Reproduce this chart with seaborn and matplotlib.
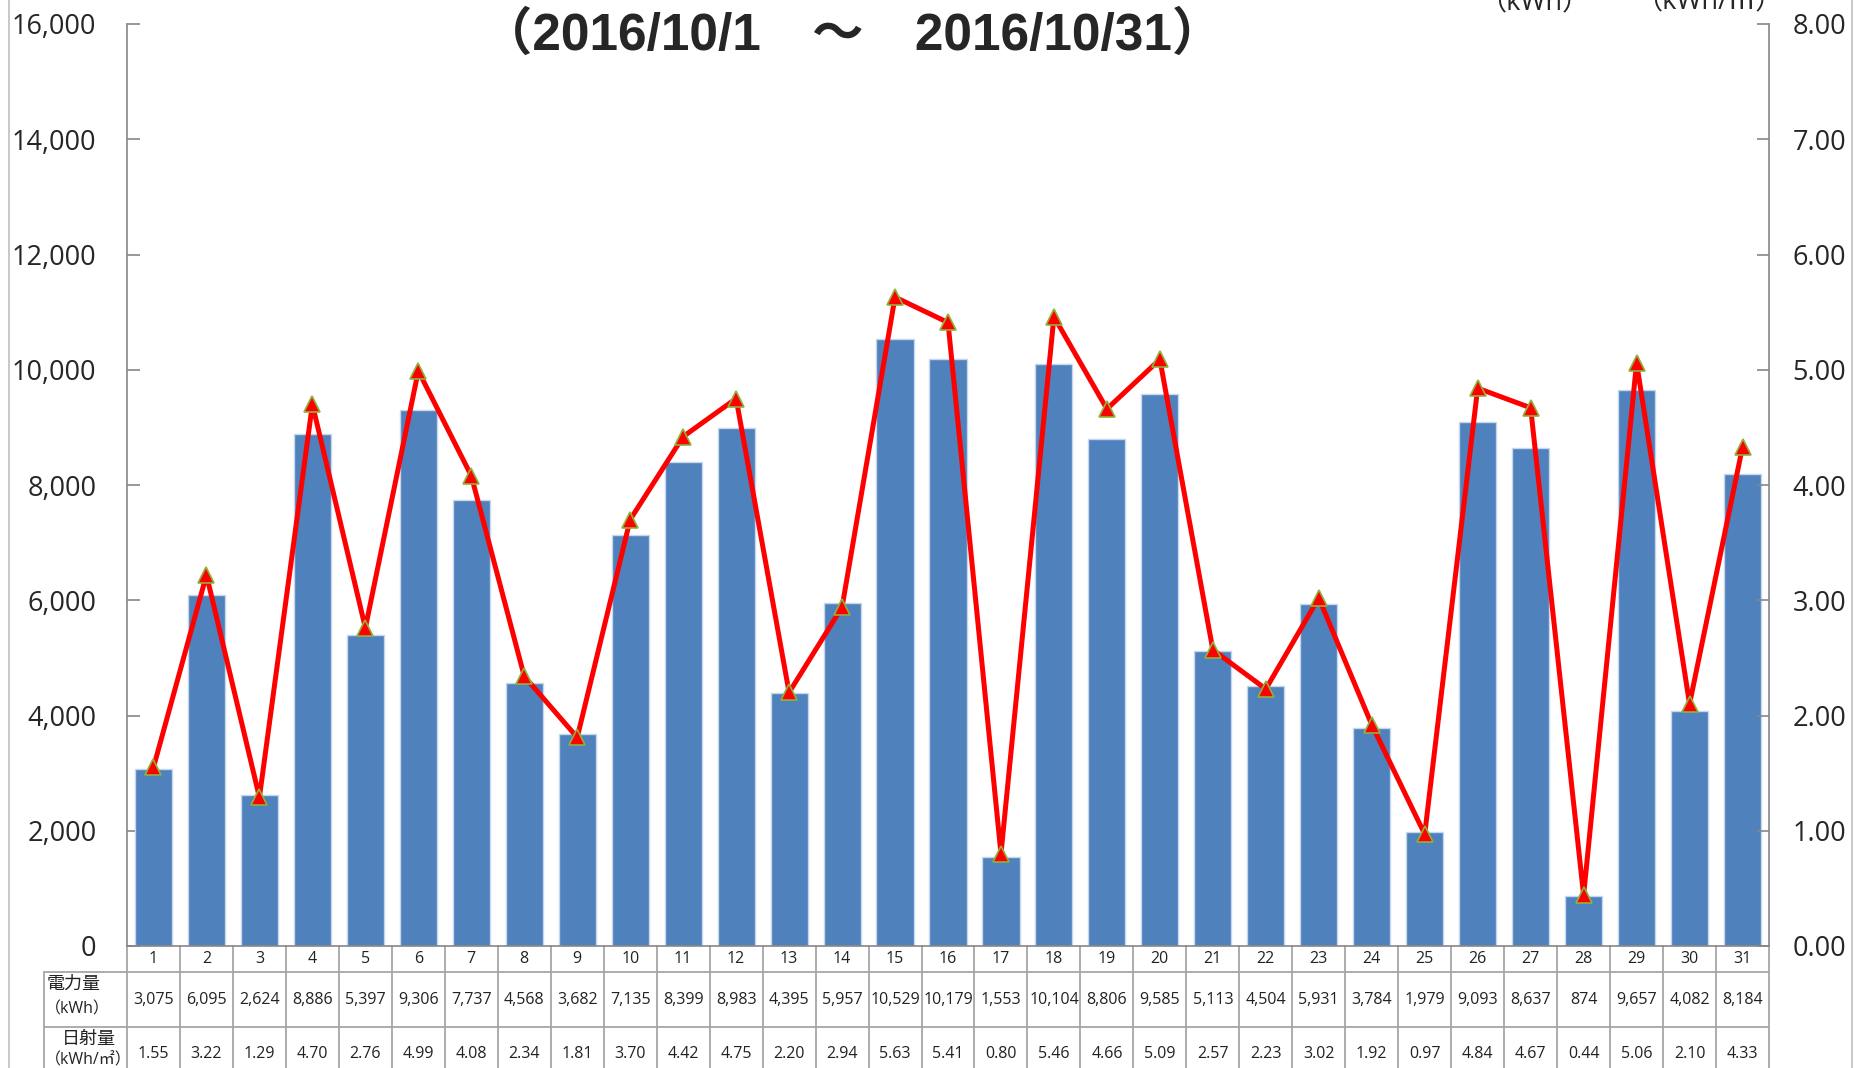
import numpy as np
import pandas as pd
import seaborn as sns
import matplotlib.pyplot as plt
from matplotlib.lines import Line2D
from matplotlib.transforms import blended_transform_factory

# data
days = list(range(1, 32))
power = [3075, 6095, 2624, 8886, 5397, 9306, 7737, 4568, 3682, 7135, 8399,
         8983, 4395, 5957, 10529, 10179, 1553, 10104, 8806, 9585, 5113, 4504,
         5931, 3784, 1979, 9093, 8637, 874, 9657, 4082, 8184]
irr = [1.55, 3.22, 1.29, 4.70, 2.76, 4.99, 4.08, 2.34, 1.81, 3.70, 4.42,
       4.75, 2.20, 2.94, 5.63, 5.41, 0.80, 5.46, 4.66, 5.09, 2.57, 2.23,
       3.02, 1.92, 0.97, 4.84, 4.67, 0.44, 5.06, 2.10, 4.33]
title = '（2016/10/1　～　2016/10/31）'
left_ticks = list(range(0, 16001, 2000))
right_ticks = list(range(0, 9))
row_labels = [('電力量', '（kWh）'), ('日射量', '（kWh/㎡）')]
unit_labels = ['（kWh）', '（kWh/㎡）']

sns.set_theme(style='white')
plt.rcParams['font.family'] = ['Open Sans', 'Noto Sans CJK JP', 'DejaVu Sans']

W, H = 1855, 1068
L, R, T, B = 127, 1769, 24, 946
fig = plt.figure(figsize=(W / 100, H / 100), dpi=100)
ax = fig.add_axes([L / W, 1 - B / H, (R - L) / W, (B - T) / H])

df = pd.DataFrame({'day': days, 'power': power, 'irr': irr})
sns.barplot(data=df, x='day', y='power', ax=ax, color='#4F81BD', saturation=1,
            width=0.7, edgecolor='#c6d6eb', linewidth=1)

ax2 = ax.twinx()
sns.lineplot(x=np.arange(len(days)), y=df['irr'], ax=ax2, color='#FF0000', lw=3.6,
             marker='^', markersize=12, markerfacecolor='#FF0000',
             markeredgecolor='#8fb23a', markeredgewidth=1.2)

grey = '#868686'
ax.set_xlim(-0.5, len(days) - 0.5)
ax.set_ylim(0, 16000)
ax.set_yticks(left_ticks)
ax.set_yticklabels([f'{v:,}' for v in left_ticks], fontsize=19.5)
ax.set_xticks([])
ax.set_xlabel('')
ax.set_ylabel('')
ax.tick_params(axis='y', direction='in', length=9, width=1.2, color=grey,
               pad=22, left=True)
ax2.set_ylim(0, 8)
ax2.set_yticks(right_ticks)
ax2.set_yticklabels([f'{v:.2f}' for v in right_ticks], fontsize=19.5)
ax2.set_ylabel('')
ax2.tick_params(axis='y', direction='in', length=9, width=1.2, color=grey,
                pad=17, right=True)
for a in (ax, ax2):
    a.spines['top'].set_visible(False)
    for s in ('left', 'right', 'bottom'):
        a.spines[s].set_color(grey)
        a.spines[s].set_linewidth(1.2)
ax2.spines['left'].set_visible(False)
ax2.spines['bottom'].set_visible(False)
ax.spines['right'].set_visible(False)

# table under the bars
tr = blended_transform_factory(ax.transData, ax.transAxes)
px = 1 / (B - T)
ys = [0, -26 * px, -81 * px, -136 * px]
xl = (44 - L) / (R - L)
lc = '#a6a6a6'
n = len(days)
for y in ys[1:3]:
    ax.plot([xl, 1], [y, y], transform=ax.transAxes, clip_on=False, color=lc, lw=1.3)
for i in range(n + 1):
    ax.plot([i - 0.5, i - 0.5], [ys[0], ys[3]], transform=tr, clip_on=False,
            color=lc, lw=1.3)
ax.plot([xl, xl], [ys[1], ys[3]], transform=ax.transAxes, clip_on=False, color=lc, lw=1.3)

rows = [[str(d) for d in days], [f'{v:,}' for v in power], [f'{v:.2f}' for v in irr]]
for r, vals in enumerate(rows):
    yc = (ys[r] + ys[r + 1]) / 2
    for i, s in enumerate(vals):
        ax.text(i, yc, s, transform=tr, ha='center', va='center', fontsize=11.5,
                color='#222222', clip_on=False)

label_x = [(47 - L) / (R - L), (62 - L) / (R - L)]
unit_dy = [37, 33]
for k, (main, unit) in enumerate(row_labels):
    top = ys[k + 1]
    ax.text(label_x[k], top - 12 * px, main, transform=ax.transAxes, ha='left',
            va='center', fontsize=13, color='#222222', clip_on=False)
    ax.text((45 - L) / (R - L), top - unit_dy[k] * px, unit, transform=ax.transAxes,
            ha='left', va='center', fontsize=11.5, color='#222222', clip_on=False)

fig.text(852 / W, 1 - 36 / H, title, ha='center', va='center', fontsize=37,
         fontweight='bold', family=['Liberation Sans', 'Noto Sans CJK JP'])
for xc, s in zip([1534, 1709], unit_labels):
    fig.text(xc / W, 1 - 9 / H, s, ha='center', va='baseline', fontsize=19.5)

for xb in (9, 1852):
    fig.add_artist(Line2D([xb / W, xb / W], [0, 1], color='#bfbfbf', lw=1.2))

fig.savefig('out.png', dpi=100)
